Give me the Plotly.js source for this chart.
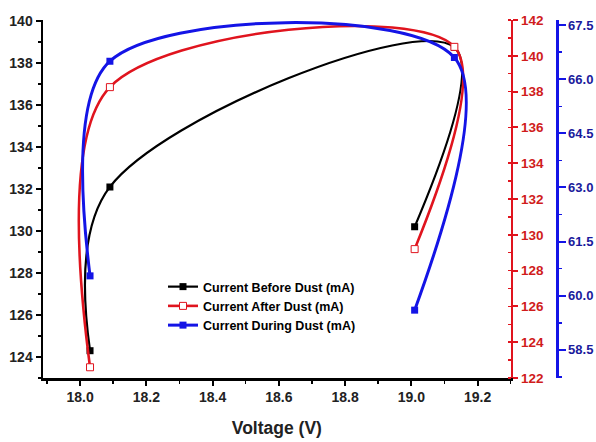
<!DOCTYPE html>
<html>
<head>
<meta charset="utf-8">
<script src="https://cdn.plot.ly/plotly-3.0.1.min.js"></script>
<style>html,body{margin:0;padding:0;background:#fff;}#chart{width:596px;height:442px;}</style>
</head>
<body>
<div id="chart"></div>
<script>
// Data
const voltage = [18.03, 18.09, 19.13, 19.01];
const currentBefore = [124.3, 132.1, 138.75, 130.2];
const currentAfter = [122.6, 138.25, 140.5, 129.2];
const currentDuring = [60.55, 66.5, 66.6, 59.6];
const seriesNames = ['Current Before Dust (mA)', 'Current After Dust (mA)', 'Current During Dust (mA)'];
const xTicks = [18.0, 18.2, 18.4, 18.6, 18.8, 19.0, 19.2];
const leftTicks = [124, 126, 128, 130, 132, 134, 136, 138, 140];
const redTicks = [122, 124, 126, 128, 130, 132, 134, 136, 138, 140, 142];
const blueTicks = [58.5, 60.0, 61.5, 63.0, 64.5, 66.0, 67.5];

const FONT = 'Liberation Sans, Arial, sans-serif';
const BLACK = '#000000', RED = '#e0141e', BLUE = '#1414e6';
const RED_TXT = '#d01c1c', BLUE_TXT = '#1a1a9c';

const traces = [
  {x: voltage, y: currentBefore, name: seriesNames[0], yaxis: 'y', mode: 'lines+markers',
   line: {color: BLACK, width: 2.2, shape: 'spline', smoothing: 1.05},
   marker: {symbol: 'square', size: 7, color: BLACK}},
  {x: voltage, y: currentAfter, name: seriesNames[1], yaxis: 'y2', mode: 'lines+markers',
   line: {color: RED, width: 2.6, shape: 'spline', smoothing: 0.95},
   marker: {symbol: 'square', size: 7, color: '#ffffff', line: {color: RED, width: 1}}},
  {x: voltage, y: currentDuring, name: seriesNames[2], yaxis: 'y3', mode: 'lines+markers',
   line: {color: BLUE, width: 3, shape: 'spline', smoothing: 0.95},
   marker: {symbol: 'square', size: 7, color: BLUE}}
];

const W = 596, H = 442;
const mL = 43, mR = 36, mT = 20, mB = 64;
const plotW = W - mL - mR;
const xEnd = (510.7 - mL) / plotW;
const bluePos = (557 - mL) / plotW;

const layout = {
  width: W, height: H,
  margin: {l: mL, r: mR, t: mT, b: mB, pad: 0},
  paper_bgcolor: '#ffffff', plot_bgcolor: '#ffffff',
  showlegend: true,
  legend: {x: (163 - mL) / plotW, y: (378 - 272) / (H - mT - mB), xanchor: 'left', yanchor: 'top',
           bgcolor: 'rgba(0,0,0,0)', font: {family: FONT, size: 12.5, color: '#000', weight: 'bold'},
           tracegroupgap: 0, itemwidth: 30},
  xaxis: {domain: [0, xEnd], range: [17.888, 19.3], tickvals: xTicks, ticktext: xTicks.map(v => v.toFixed(1)),
          showgrid: false, zeroline: false, showline: true, linecolor: BLACK, linewidth: 2.5,
          ticks: 'outside', ticklen: 5, tickwidth: 2, tickcolor: BLACK,
          minor: {dtick: 0.1, tick0: 17.9, ticks: 'outside', ticklen: 3, tickwidth: 1.5, tickcolor: BLACK, showgrid: false},
          tickfont: {family: FONT, size: 14, color: '#222', weight: 'bold'},
          title: {text: 'Voltage (V)', font: {family: FONT, size: 17.5, color: '#222', weight: 'bold'}, standoff: 18}},
  yaxis: {range: [123, 140.05], tickvals: leftTicks, showgrid: false, zeroline: false,
          showline: true, linecolor: BLACK, linewidth: 2.5,
          ticks: 'outside', ticklen: 5, tickwidth: 2, tickcolor: BLACK,
          minor: {dtick: 1, tick0: 123, ticks: 'outside', ticklen: 3, tickwidth: 1.5, tickcolor: BLACK, showgrid: false},
          tickfont: {family: FONT, size: 14, color: '#222', weight: 'bold'}},
  yaxis2: {overlaying: 'y', side: 'right', anchor: 'x', range: [122, 142], tickvals: redTicks,
          showgrid: false, zeroline: false, showline: true, linecolor: RED, linewidth: 2.5,
          ticks: 'outside', ticklen: 5, tickwidth: 2, tickcolor: RED,
          minor: {dtick: 1, tick0: 122, ticks: 'inside', ticklen: 3, tickwidth: 1.5, tickcolor: RED, showgrid: false},
          tickfont: {family: FONT, size: 13.5, color: RED_TXT, weight: 'bold'}},
  yaxis3: {overlaying: 'y', side: 'right', anchor: 'free', position: bluePos, range: [57.72, 67.64],
          tickvals: blueTicks, ticktext: blueTicks.map(v => v.toFixed(1)),
          showgrid: false, zeroline: false, showline: true, linecolor: BLUE, linewidth: 2.5,
          ticks: 'outside', ticklen: 7, tickwidth: 2, tickcolor: BLUE,
          minor: {dtick: 0.75, tick0: 57.75, ticks: 'outside', ticklen: 3, tickwidth: 1.5, tickcolor: BLUE, showgrid: false},
          tickfont: {family: FONT, size: 13, color: BLUE_TXT, weight: 'bold'}}
};

Plotly.newPlot('chart', traces, layout, {displayModeBar: false, staticPlot: true});
</script>
</body>
</html>
